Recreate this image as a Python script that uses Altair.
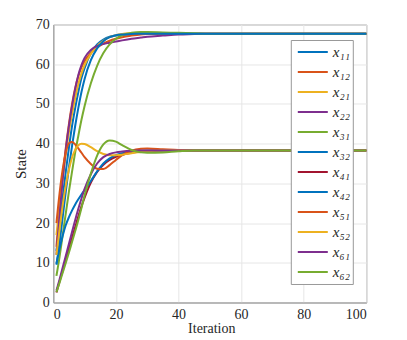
import altair as alt
import pandas as pd

iterations = [1, 2, 3, 4, 5, 6, 7, 8, 9, 10, 12, 14, 16, 18, 20, 22, 25, 28, 30, 35, 40, 45, 50, 60, 70, 80, 90, 100]

x11 = [13, 19.5, 26.5, 33, 39, 44.5, 49, 53, 56.5, 59, 62.8, 65, 66.2, 66.9, 67.2, 67.4, 67.5, 67.6, 67.6, 67.7, 67.7, 67.7, 67.7, 67.7, 67.7, 67.7, 67.7, 67.7]
x12 = [14, 24, 32, 39, 45, 50, 54, 57, 59.2, 60.8, 62.8, 64.2, 65.2, 65.9, 66.4, 66.8, 67.2, 67.5, 67.6, 67.7, 67.7, 67.7, 67.7, 67.7, 67.7, 67.7, 67.7, 67.7]
x21 = [17, 24.5, 31, 37.5, 43, 47.5, 51.5, 55, 57.7, 59.8, 62.6, 64.6, 65.9, 66.8, 67.3, 67.6, 67.8, 67.9, 67.9, 67.8, 67.8, 67.7, 67.7, 67.7, 67.7, 67.7, 67.7, 67.7]
x22 = [12, 22, 31, 38.5, 44.5, 49.5, 53.8, 57.3, 59.8, 61.6, 63.6, 64.6, 65.1, 65.4, 65.7, 66, 66.4, 66.7, 66.9, 67.2, 67.5, 67.6, 67.7, 67.7, 67.7, 67.7, 67.7, 67.7]
x31 = [6.7, 11.5, 17, 22.5, 28, 33, 37.8, 42, 46, 49.5, 55.2, 59.6, 62.8, 65, 66.4, 67.3, 67.9, 68.1, 68.1, 68, 67.9, 67.8, 67.7, 67.7, 67.7, 67.7, 67.7, 67.7]
x32 = [9.5, 15, 21.5, 28, 34, 39.5, 44.5, 49, 53, 56.3, 61, 64, 65.8, 66.8, 67.3, 67.5, 67.6, 67.7, 67.7, 67.7, 67.7, 67.7, 67.7, 67.7, 67.7, 67.7, 67.7, 67.7]
x41 = [2.5, 5.3, 8, 10.8, 13.5, 16.3, 19, 21.7, 24.2, 26.4, 30.2, 32.9, 34.7, 35.9, 36.7, 37.2, 37.7, 38, 38.1, 38.3, 38.3, 38.3, 38.3, 38.3, 38.3, 38.3, 38.3, 38.3]
x42 = [9.8, 13.5, 16.8, 19.5, 21.5, 23.2, 24.7, 26, 27.2, 28.3, 30.6, 33, 35, 36.3, 37.1, 37.6, 38, 38.2, 38.3, 38.3, 38.3, 38.3, 38.3, 38.3, 38.3, 38.3, 38.3, 38.3]
x51 = [20, 27.5, 33.5, 37.8, 40.1, 40.4, 39.8, 38.8, 37.7, 36.6, 34.9, 33.7, 33.6, 34.6, 35.9, 37.1, 38.2, 38.7, 38.8, 38.6, 38.4, 38.3, 38.3, 38.3, 38.3, 38.3, 38.3, 38.3]
x52 = [12, 18.5, 24.5, 29.5, 33.5, 36.5, 38.5, 39.6, 40, 39.9, 39.1, 38.1, 37.4, 37.1, 37.1, 37.2, 37.6, 37.9, 38.1, 38.3, 38.3, 38.3, 38.3, 38.3, 38.3, 38.3, 38.3, 38.3]
x61 = [3, 5.8, 8.8, 11.8, 14.8, 17.8, 20.8, 23.6, 26.2, 28.6, 32.3, 35, 36.6, 37.4, 37.8, 38, 38.2, 38.3, 38.3, 38.3, 38.3, 38.3, 38.3, 38.3, 38.3, 38.3, 38.3, 38.3]
x62 = [2.6, 5, 7.5, 10, 12.6, 15.3, 18, 20.8, 23.8, 27, 32.5, 37, 39.8, 40.8, 40.5, 39.6, 38.4, 37.8, 37.7, 37.8, 38.1, 38.3, 38.3, 38.3, 38.3, 38.3, 38.3, 38.3]

series_names = ["x₁₁", "x₁₂", "x₂₁", "x₂₂", "x₃₁", "x₃₂", "x₄₁", "x₄₂", "x₅₁", "x₅₂", "x₆₁", "x₆₂"]
series_values = [x11, x12, x21, x22, x31, x32, x41, x42, x51, x52, x61, x62]
colors = ["#0072BD", "#D95319", "#EDB120", "#7E2F8E", "#77AC30", "#0072BD",
          "#A2142F", "#0072BD", "#D95319", "#EDB120", "#7E2F8E", "#77AC30"]

rows = []
for k, (name, vals) in enumerate(zip(series_names, series_values)):
    for it, v in zip(iterations, vals):
        rows.append({"series": name, "order": k, "Iteration": it, "State": v})
df = pd.DataFrame(rows)

FONT = "Liberation Serif"
TXT = "#262626"

chart = alt.Chart(df).mark_line(strokeWidth=2, interpolate="monotone").encode(
    x=alt.X("Iteration:Q", scale=alt.Scale(domain=[0, 100], nice=False),
            axis=alt.Axis(values=[0, 20, 40, 60, 80, 100], title="Iteration",
                          titleX=158, titleY=30, titleBaseline="alphabetic",
                          titleAlign="center", labelFont=FONT, titleFont=FONT,
                          titleFontSize=14,
                          labelFontSize=14, labelColor=TXT, labelPadding=5)),
    y=alt.Y("State:Q", scale=alt.Scale(domain=[0, 70], nice=False),
            axis=alt.Axis(values=[0, 10, 20, 30, 40, 50, 60, 70], title="State",
                          titlePadding=7, labelFont=FONT, titleFont=FONT,
                          titleFontSize=15,
                          labelFontSize=14, labelColor=TXT, labelPadding=4)),
    color=alt.Color("series:N", sort=series_names,
                    scale=alt.Scale(domain=series_names, range=colors),
                    legend=alt.Legend(title=None, orient="none", legendX=237.5, legendY=15.5,
                                      symbolType="stroke", symbolSize=900, symbolStrokeWidth=2,
                                      labelFontSize=15, labelFontStyle="italic", labelFont=FONT,
                                      labelColor=TXT,
                                      clipHeight=20, rowPadding=0, padding=2,
                                      symbolOffset=4, labelOffset=4,
                                      fillColor="white", strokeColor="#999999",
                                      cornerRadius=0)),
    order=alt.Order("order:Q"),
).properties(
    width=313, height=278,
    autosize=alt.AutoSizeParams(type="none"),
    padding={"left": 45.3, "top": 16.5, "right": 30, "bottom": 36},
).configure(
    font=FONT,
).configure_axis(
    titleColor=TXT,
    titleFontWeight="normal", gridColor="#e6e6e6", domainColor="#999999",
    ticks=False,
).configure_view(
    stroke="#999999", strokeWidth=1,
)

chart.save("out.html", embed_options={"renderer": "svg", "actions": False})
